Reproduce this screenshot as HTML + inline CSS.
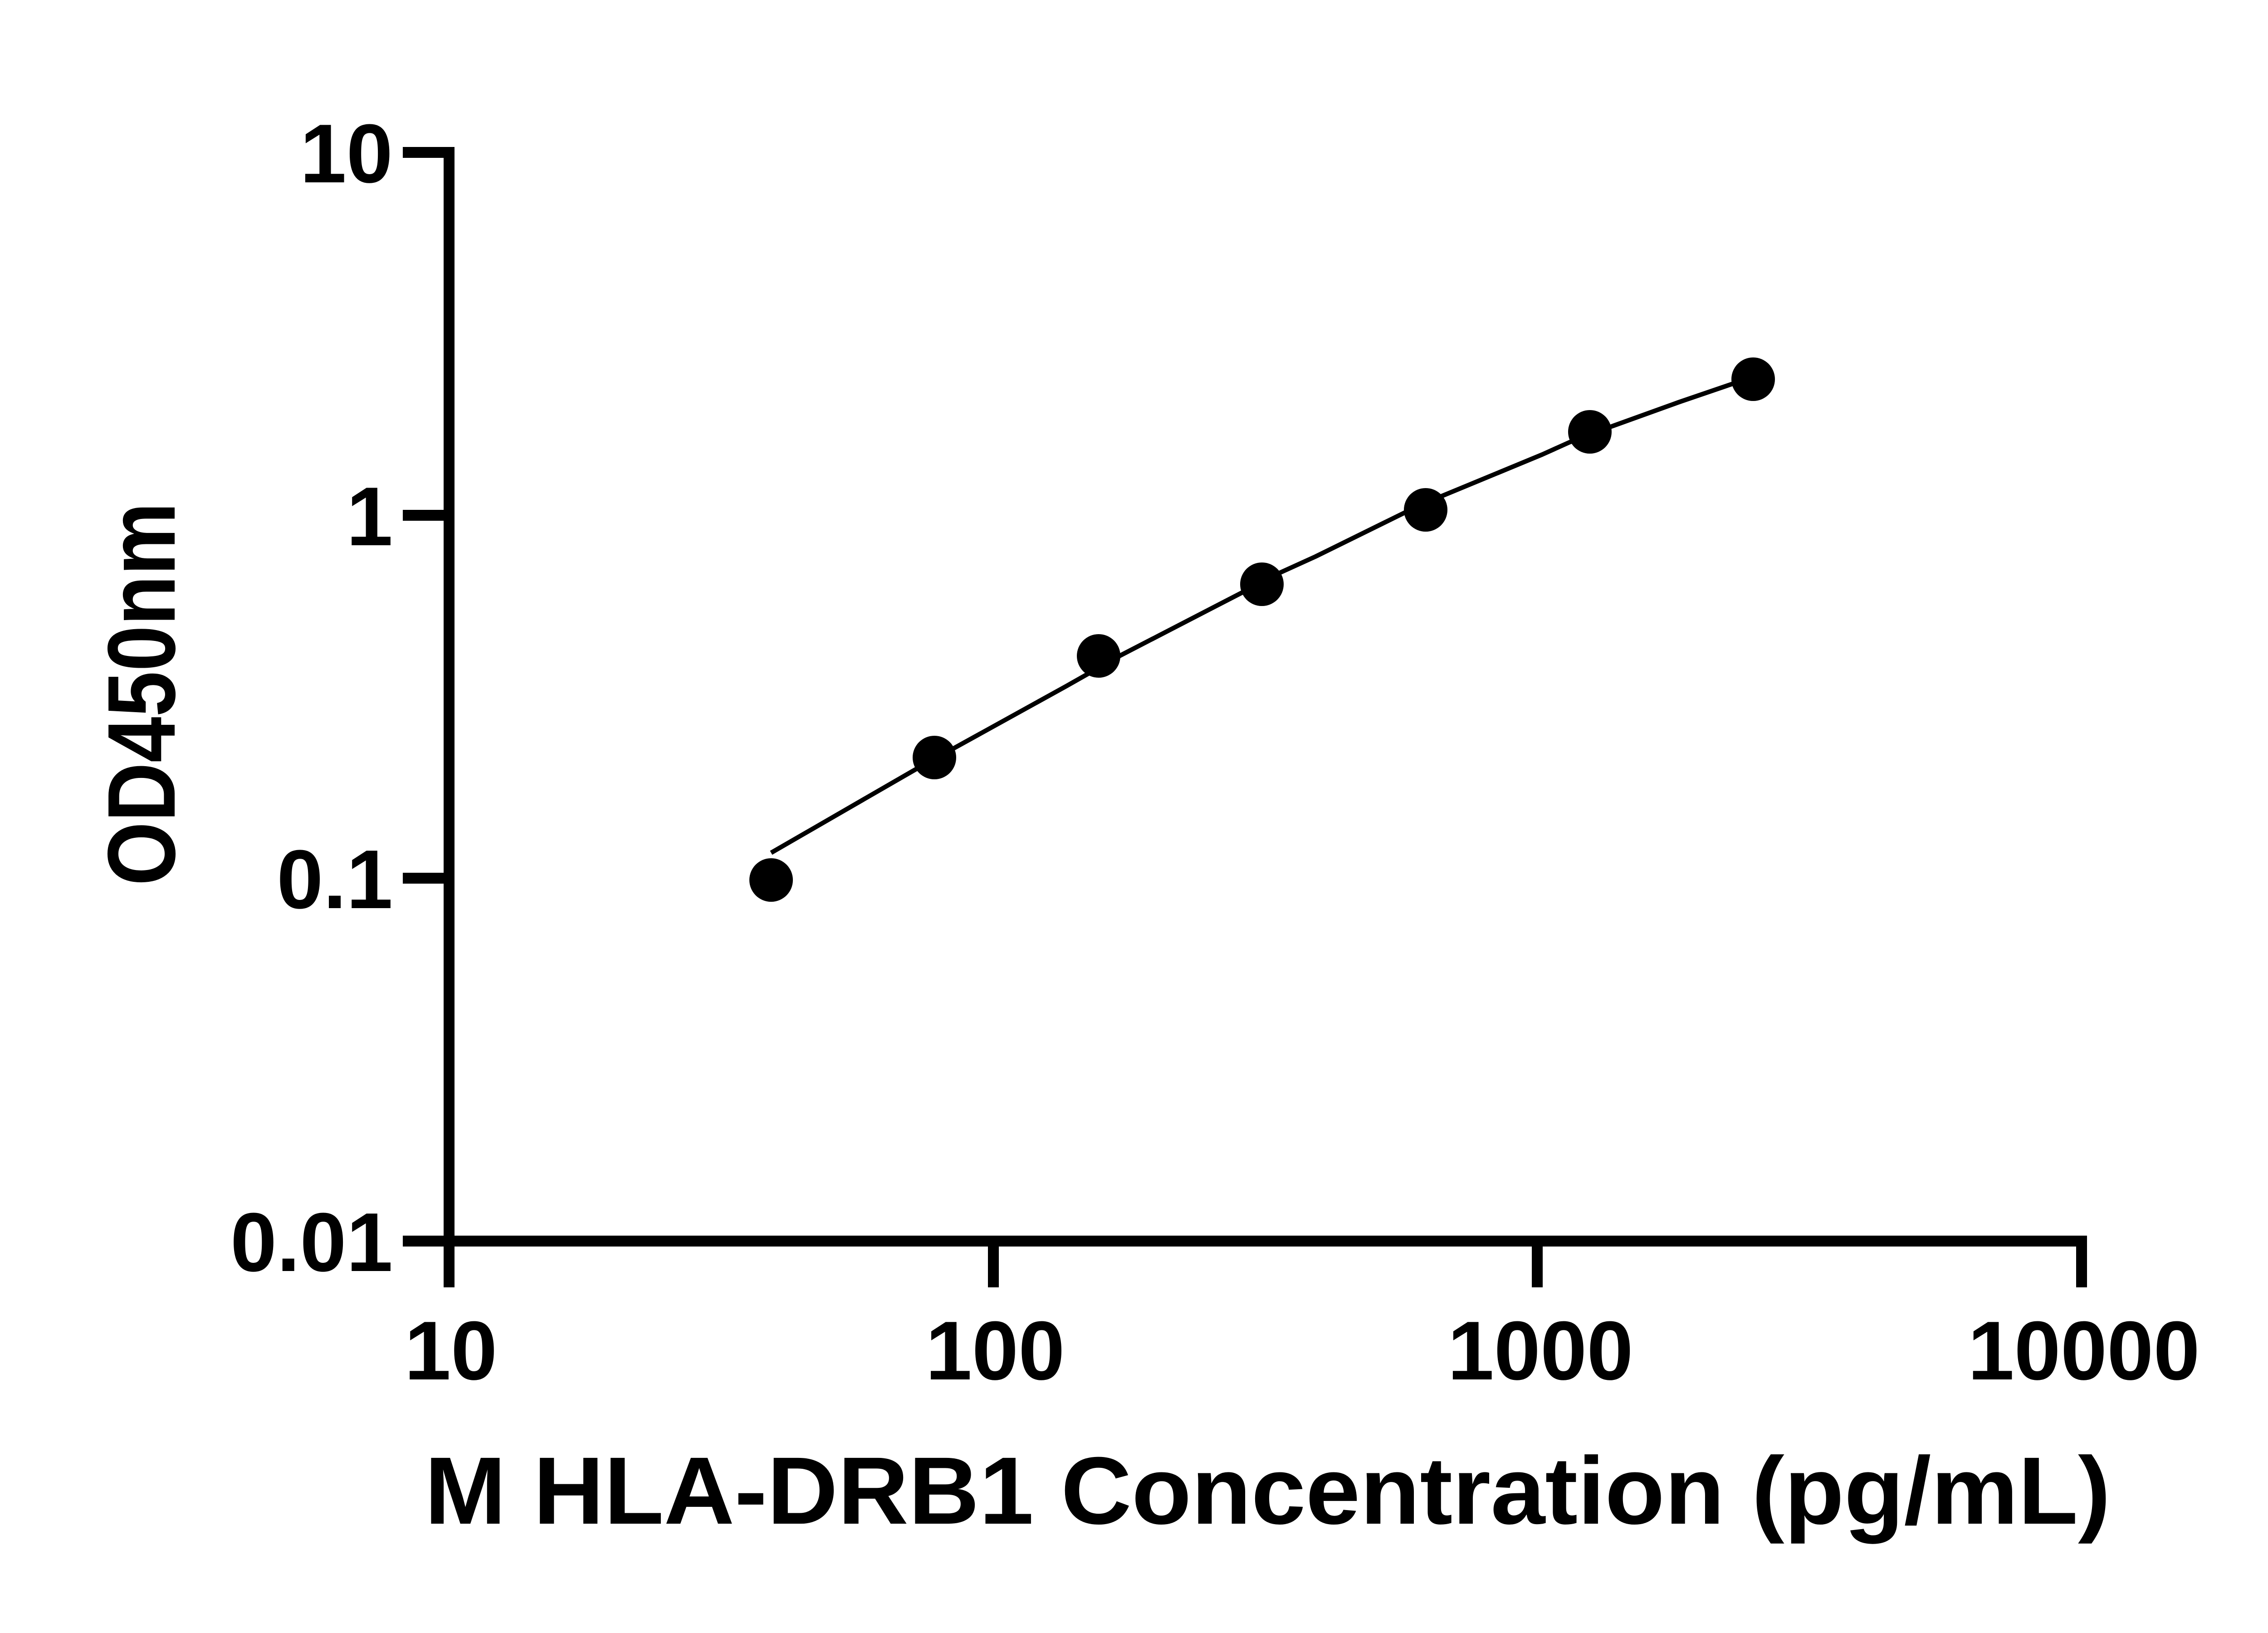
<!DOCTYPE html>
<html>
<head>
<meta charset="utf-8">
<style>
  html, body { margin: 0; padding: 0; background: #ffffff; }
  body { width: 5142px; height: 3600px; overflow: hidden; }
  svg { display: block; }
  text { font-family: "Liberation Sans", Arial, sans-serif; font-weight: bold; fill: #000; }
</style>
</head>
<body>
<svg width="5142" height="3600" viewBox="0 0 5142 3600" xmlns="http://www.w3.org/2000/svg">
  <rect x="0" y="0" width="5142" height="3600" fill="#ffffff"/>

  <!-- Y axis line (extends below as x tick at 10) -->
  <rect x="978" y="324" width="24" height="2514" fill="#000"/>
  <!-- Y ticks -->
  <rect x="888" y="324" width="114" height="24" fill="#000"/>
  <rect x="888" y="1124" width="114" height="24" fill="#000"/>
  <rect x="888" y="1924" width="114" height="24" fill="#000"/>
  <rect x="888" y="2724" width="114" height="24" fill="#000"/>

  <!-- X axis line -->
  <rect x="888" y="2724" width="3713" height="24" fill="#000"/>
  <!-- X ticks -->
  <rect x="2178" y="2724" width="24" height="114" fill="#000"/>
  <rect x="3377" y="2724" width="24" height="114" fill="#000"/>
  <rect x="4577" y="2724" width="24" height="114" fill="#000"/>

  <!-- Y tick labels -->
  <text x="866" y="402" font-size="184" text-anchor="end">10</text>
  <text x="866" y="1202" font-size="184" text-anchor="end">1</text>
  <text x="866" y="2002" font-size="184" text-anchor="end">0.1</text>
  <text x="866" y="2802" font-size="184" text-anchor="end">0.01</text>

  <!-- X tick labels -->
  <text x="994" y="3041" font-size="184" text-anchor="middle">10</text>
  <text x="2194" y="3041" font-size="184" text-anchor="middle">100</text>
  <text x="3396" y="3041" font-size="184" text-anchor="middle">1000</text>
  <text x="4594" y="3041" font-size="184" text-anchor="middle">10000</text>

  <!-- Axis titles -->
  <text x="936" y="3359" font-size="211" textLength="3717" lengthAdjust="spacingAndGlyphs">M HLA-DRB1 Concentration (pg/mL)</text>
  <text transform="translate(385,1530) rotate(-90)" x="0" y="0" font-size="212" text-anchor="middle" textLength="845" lengthAdjust="spacingAndGlyphs">OD450nm</text>

  <!-- Fitted curve -->
  <polyline fill="none" stroke="#000" stroke-width="10" stroke-linejoin="round"
    points="1700,1880 2017,1697 2350,1513 2470,1445 2737,1307 2823,1262 2900,1227 3097,1130 3180,1093 3400,1002 3460,975 3553,940 3700,887 3817,847 3865,832"/>

  <!-- Data points -->
  <circle cx="1700" cy="1940" r="48" fill="#000"/>
  <circle cx="2060" cy="1670" r="48" fill="#000"/>
  <circle cx="2422" cy="1446" r="48" fill="#000"/>
  <circle cx="2782" cy="1288" r="48" fill="#000"/>
  <circle cx="3143" cy="1124" r="48" fill="#000"/>
  <circle cx="3505" cy="952" r="48" fill="#000"/>
  <circle cx="3865" cy="836" r="48" fill="#000"/>
</svg>
</body>
</html>
